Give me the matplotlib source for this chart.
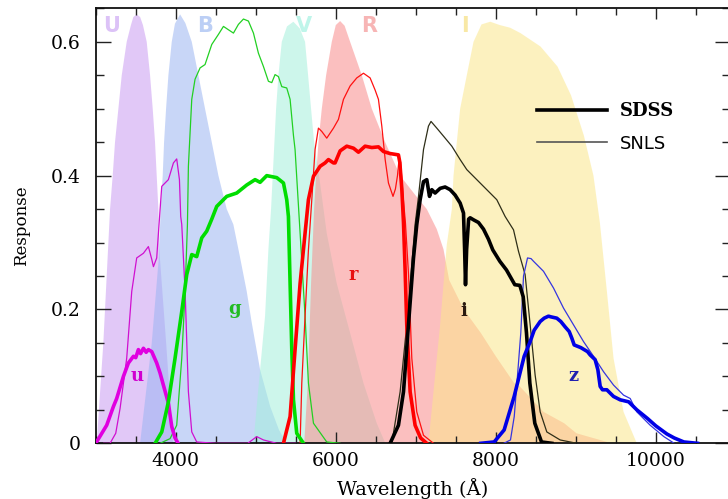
import numpy as np
import matplotlib
matplotlib.use('Agg')
import matplotlib.pyplot as plt
from matplotlib import ticker
from matplotlib.lines import Line2D

# Bessell UBVRI bands (shaded outlines: left edge up, right edge down)
U_wl = [3000, 3012, 3095, 3158, 3179, 3212, 3241, 3283, 3325, 3387, 3440, 3470, 3512, 3555, 3590, 3637, 3679, 3712, 3741, 3762, 3783, 3800, 3880, 3966]
U_resp = [0, 0.0, 0.15, 0.30, 0.35, 0.40, 0.45, 0.50, 0.55, 0.60, 0.625, 0.637, 0.641, 0.637, 0.625, 0.60, 0.55, 0.50, 0.45, 0.40, 0.35, 0.28, 0.15, 0.0]
B_wl = [3554, 3700, 3790, 3812, 3837, 3854, 3879, 3908, 3950, 3990, 4054, 4120, 4200, 4283, 4366, 4450, 4533, 4637, 4720, 4800, 4887, 4950, 5054, 5180, 5290, 5387]
B_resp = [0, 0.15, 0.28, 0.35, 0.40, 0.45, 0.50, 0.55, 0.60, 0.627, 0.641, 0.628, 0.60, 0.55, 0.50, 0.45, 0.40, 0.35, 0.327, 0.28, 0.227, 0.18, 0.11, 0.055, 0.02, 0]
V_wl = [4970, 5054, 5116, 5158, 5191, 5212, 5233, 5254, 5283, 5325, 5390, 5470, 5550, 5616, 5654, 5691, 5729, 5804, 5887, 6012, 6179, 6346, 6512, 6620]
V_resp = [0, 0.11, 0.19, 0.29, 0.35, 0.40, 0.45, 0.50, 0.55, 0.60, 0.623, 0.63, 0.62, 0.60, 0.55, 0.50, 0.45, 0.389, 0.314, 0.239, 0.165, 0.09, 0.03, 0]
R_wl = [5592, 5608, 5650, 5691, 5729, 5754, 5783, 5825, 5879, 5950, 6000, 6054, 6110, 6179, 6325, 6450, 6617, 6804, 7000, 7137, 7262, 7346, 7417, 7600, 7812, 8000, 8229, 8300, 8596, 8854, 9008, 9450]
R_resp = [0, 0.005, 0.09, 0.239, 0.35, 0.40, 0.45, 0.50, 0.55, 0.60, 0.625, 0.631, 0.624, 0.60, 0.55, 0.50, 0.45, 0.40, 0.37, 0.35, 0.32, 0.29, 0.244, 0.20, 0.165, 0.13, 0.09, 0.085, 0.047, 0.03, 0.015, 0]
I_wl = [7158, 7221, 7304, 7387, 7450, 7471, 7512, 7554, 7637, 7721, 7821, 7930, 8050, 8179, 8308, 8558, 8771, 8940, 9100, 9220, 9300, 9388, 9471, 9596, 9762]
I_resp = [0, 0.077, 0.177, 0.297, 0.35, 0.40, 0.45, 0.50, 0.55, 0.60, 0.626, 0.63, 0.625, 0.621, 0.613, 0.593, 0.563, 0.52, 0.46, 0.40, 0.33, 0.227, 0.127, 0.047, 0]

# SDSS (thick) filter curves
sdss_u_wl = [3000, 3137, 3221, 3262, 3346, 3408, 3471, 3500, 3533, 3560, 3596, 3630, 3658, 3700, 3762, 3804, 3850, 3908, 3950, 3991, 4030]
sdss_u = [0, 0.027, 0.055, 0.067, 0.10, 0.12, 0.13, 0.128, 0.14, 0.134, 0.142, 0.136, 0.14, 0.137, 0.12, 0.105, 0.085, 0.06, 0.025, 0.008, 0]
sdss_g_wl = [3742, 3825, 3908, 3991, 4075, 4137, 4200, 4262, 4325, 4387, 4450, 4512, 4637, 4762, 4887, 4991, 5054, 5137, 5262, 5346, 5387, 5408, 5429, 5450, 5471, 5512, 5596]
sdss_g = [0, 0.017, 0.062, 0.127, 0.197, 0.252, 0.282, 0.279, 0.307, 0.317, 0.335, 0.354, 0.369, 0.374, 0.386, 0.394, 0.39, 0.40, 0.397, 0.389, 0.364, 0.339, 0.239, 0.14, 0.065, 0.015, 0]
sdss_r_wl = [5346, 5429, 5491, 5554, 5616, 5658, 5721, 5804, 5866, 5908, 5971, 5991, 6054, 6137, 6221, 6283, 6366, 6450, 6533, 6596, 6679, 6783, 6800, 6825, 6846, 6866, 6887, 6929, 6991, 7060, 7137]
sdss_r = [0, 0.04, 0.14, 0.239, 0.314, 0.364, 0.399, 0.414, 0.419, 0.424, 0.419, 0.419, 0.437, 0.444, 0.441, 0.435, 0.444, 0.442, 0.443, 0.436, 0.433, 0.431, 0.42, 0.38, 0.33, 0.26, 0.177, 0.077, 0.027, 0.008, 0]
sdss_i_wl = [6679, 6783, 6846, 6908, 6971, 7012, 7054, 7096, 7137, 7171, 7200, 7241, 7304, 7366, 7429, 7491, 7554, 7596, 7610, 7621, 7635, 7660, 7679, 7721, 7783, 7846, 7908, 7962, 8050, 8133, 8237, 8300, 8342, 8383, 8425, 8487, 8571, 8700]
sdss_i = [0, 0.027, 0.077, 0.177, 0.277, 0.327, 0.364, 0.391, 0.394, 0.369, 0.379, 0.374, 0.381, 0.383, 0.379, 0.371, 0.359, 0.344, 0.29, 0.237, 0.29, 0.335, 0.337, 0.334, 0.33, 0.32, 0.305, 0.289, 0.272, 0.259, 0.237, 0.236, 0.219, 0.165, 0.09, 0.03, 0.002, 0]
sdss_z_wl = [7812, 7979, 8104, 8229, 8354, 8429, 8479, 8554, 8604, 8658, 8687, 8762, 8812, 8866, 8917, 8950, 8979, 9062, 9146, 9179, 9241, 9275, 9304, 9333, 9387, 9471, 9554, 9660, 9762, 9896, 10000, 10137, 10229, 10350, 10520]
sdss_z = [0, 0.002, 0.02, 0.07, 0.13, 0.152, 0.169, 0.182, 0.187, 0.19, 0.189, 0.187, 0.182, 0.174, 0.167, 0.157, 0.147, 0.143, 0.137, 0.132, 0.125, 0.11, 0.085, 0.08, 0.08, 0.07, 0.065, 0.062, 0.05, 0.037, 0.026, 0.014, 0.008, 0.002, 0]

# SNLS (thin) filter curves
snls_u_wl = [3100, 3179, 3250, 3304, 3387, 3450, 3512, 3596, 3658, 3700, 3721, 3762, 3791, 3825, 3908, 3971, 4012, 4046, 4062, 4075, 4117, 4158, 4200, 4262, 4500, 4900, 5012, 5096, 5262, 5500]
snls_u = [0, 0.0, 0.015, 0.052, 0.127, 0.227, 0.277, 0.284, 0.294, 0.275, 0.264, 0.277, 0.327, 0.384, 0.394, 0.419, 0.425, 0.394, 0.339, 0.327, 0.227, 0.077, 0.017, 0.002, 0.0, 0.0, 0.01, 0.005, 0.0, 0.0]
snls_g_wl = [3804, 3929, 4012, 4075, 4117, 4146, 4158, 4200, 4241, 4304, 4366, 4450, 4533, 4596, 4658, 4721, 4783, 4846, 4908, 4971, 5033, 5096, 5158, 5200, 5241, 5283, 5325, 5387, 5429, 5471, 5491, 5554, 5616, 5658, 5721, 5887, 6054]
snls_g = [0, 0.007, 0.027, 0.127, 0.227, 0.327, 0.414, 0.514, 0.544, 0.561, 0.566, 0.596, 0.611, 0.623, 0.618, 0.613, 0.626, 0.634, 0.631, 0.613, 0.583, 0.563, 0.541, 0.539, 0.551, 0.548, 0.533, 0.531, 0.514, 0.46, 0.439, 0.314, 0.19, 0.09, 0.03, 0.002, 0]
snls_r_wl = [5554, 5575, 5616, 5658, 5700, 5741, 5783, 5825, 5887, 5971, 6033, 6096, 6179, 6262, 6346, 6429, 6491, 6533, 6575, 6617, 6658, 6715, 6745, 6771, 6791, 6810, 6840, 6870, 6910, 6950, 7012, 7096, 7221]
snls_r = [0, 0.09, 0.19, 0.289, 0.364, 0.439, 0.471, 0.466, 0.456, 0.471, 0.484, 0.514, 0.534, 0.546, 0.553, 0.546, 0.528, 0.514, 0.474, 0.424, 0.389, 0.369, 0.38, 0.40, 0.425, 0.42, 0.37, 0.33, 0.25, 0.127, 0.047, 0.012, 0]
snls_i_wl = [6700, 6804, 6887, 6991, 7029, 7096, 7158, 7190, 7262, 7346, 7450, 7554, 7637, 7762, 7887, 8012, 8116, 8221, 8283, 8366, 8429, 8491, 8554, 8637, 8804, 9012]
snls_i = [0, 0.077, 0.177, 0.327, 0.364, 0.439, 0.474, 0.481, 0.471, 0.459, 0.444, 0.424, 0.409, 0.394, 0.379, 0.364, 0.339, 0.319, 0.287, 0.252, 0.177, 0.102, 0.047, 0.017, 0.005, 0]
snls_z_wl = [8100, 8183, 8230, 8270, 8312, 8346, 8396, 8440, 8471, 8596, 8721, 8846, 8971, 9096, 9221, 9346, 9471, 9596, 9679, 9762, 9929, 10100, 10229]
snls_z = [0, 0.005, 0.04, 0.10, 0.165, 0.25, 0.277, 0.276, 0.272, 0.257, 0.232, 0.202, 0.177, 0.152, 0.13, 0.107, 0.087, 0.072, 0.067, 0.047, 0.027, 0.01, 0]

band_names = ['U', 'B', 'V', 'R', 'I']
band_label_wl = [3204, 4366, 5604, 6416, 7610]
filter_names = ['u', 'g', 'r', 'i', 'z']
filter_label_wl = [3516, 4741, 6221, 7600, 8970]
filter_label_resp = [0.10, 0.20, 0.252, 0.198, 0.10]

band_fill = ['#ca9bf2', '#9bb5f2', '#a4f0dc', '#f98c8c', '#fbe78c']
band_text = ['#dcc2f7', '#bccff5', '#bff5ea', '#f7b5b5', '#f8e8a5']
sdss_col = ['#e000e0', '#00dd00', '#ff0000', '#000000', '#0000e6']
snls_col = ['#d010d0', '#22d022', '#ff1010', '#2e2e18', '#3535e0']
label_col = ['#d000d0', '#22bb22', '#e81010', '#2a1a10', '#2020b0']

fig = plt.figure(figsize=(7.28, 4.99), dpi=100)
ax = fig.add_axes([0.1315, 0.1116, 0.8711, 0.8717])

bands = [(U_wl, U_resp), (B_wl, B_resp), (V_wl, V_resp), (R_wl, R_resp), (I_wl, I_resp)]
for (wl, rs), col in zip(bands, band_fill):
    ax.fill(wl, rs, color=col, alpha=0.55, lw=0, zorder=1)

for name, wl, col in zip(band_names, band_label_wl, band_text):
    ax.text(wl, 0.623, name, color=col, fontsize=15, fontweight='bold',
            family='DejaVu Sans', ha='center', va='center', zorder=2)

snls = [(snls_u_wl, snls_u), (snls_g_wl, snls_g), (snls_r_wl, snls_r), (snls_i_wl, snls_i), (snls_z_wl, snls_z)]
sdss = [(sdss_u_wl, sdss_u), (sdss_g_wl, sdss_g), (sdss_r_wl, sdss_r), (sdss_i_wl, sdss_i), (sdss_z_wl, sdss_z)]
for (wl, rs), col in zip(snls, snls_col):
    ax.plot(wl, rs, color=col, lw=0.9, zorder=3)
for (wl, rs), col in zip(sdss, sdss_col):
    ax.plot(wl, rs, color=col, lw=2.6, zorder=4, solid_joinstyle='round')

for name, x, y, col in zip(filter_names, filter_label_wl, filter_label_resp, label_col):
    ax.text(x, y, name, color=col, fontsize=13, fontweight='bold',
            family='DejaVu Serif', ha='center', va='center', zorder=5)

ax.set_xlim(3000, 10925)
ax.set_ylim(0, 0.65)
ax.xaxis.set_major_locator(ticker.MultipleLocator(2000))
ax.xaxis.set_minor_locator(ticker.MultipleLocator(500))
ax.yaxis.set_major_locator(ticker.FixedLocator([0, 0.2, 0.4, 0.6]))
ax.yaxis.set_minor_locator(ticker.MultipleLocator(0.05))
ax.yaxis.set_major_formatter(ticker.FixedFormatter(['0', '0.2', '0.4', '0.6']))
ax.tick_params(which='both', direction='in', top=True, right=True, width=1, color='#222222')
ax.tick_params(axis='x', which='major', length=8, pad=6)
ax.tick_params(axis='x', which='minor', length=5)
ax.tick_params(axis='y', which='major', length=11, pad=11)
ax.tick_params(axis='y', which='minor', length=6)
for lab in ax.get_xticklabels() + ax.get_yticklabels():
    lab.set_family('DejaVu Serif')
    lab.set_fontsize(13.5)
for sp in ax.spines.values():
    sp.set_linewidth(1.3)
    sp.set_color('#111111')

ax.set_xlabel('Wavelength (Å)', family='DejaVu Serif', fontsize=14, labelpad=6)
ax.set_ylabel('Response', family='DejaVu Serif', fontsize=12)
ax.yaxis.set_label_coords(-0.104, 0.5)

handles = [Line2D([], [], color='black', lw=2.6), Line2D([], [], color='#555555', lw=1.2)]
leg = ax.legend(handles, ['SDSS', 'SNLS'], loc='upper left', frameon=False,
                bbox_to_anchor=(537 / 728, 1 - 102 / 499), bbox_transform=fig.transFigure,
                borderpad=0, borderaxespad=0, handlelength=3.9, handletextpad=0.7,
                labelspacing=0.82, fontsize=13)
leg.get_texts()[0].set_fontweight('bold')
leg.get_texts()[0].set_family('DejaVu Serif')
leg.get_texts()[1].set_family('DejaVu Sans')

fig.savefig('out.png', dpi=100)
